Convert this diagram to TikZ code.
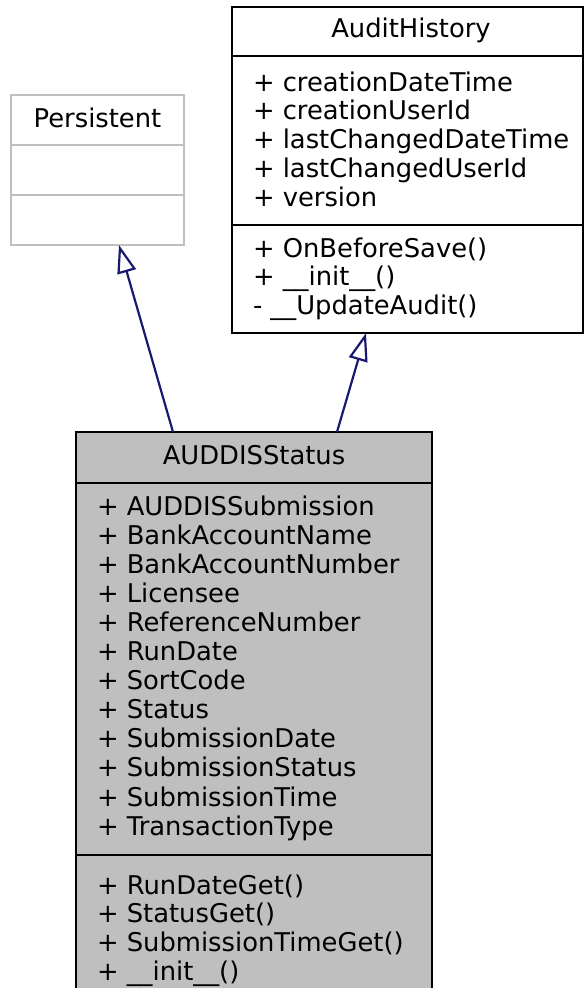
\documentclass[tikz,border=0pt]{standalone}
\usepackage{fontspec}
\setmainfont{DejaVu Sans}
\usetikzlibrary{arrows.meta}
\definecolor{boxgray}{HTML}{BFBFBF}
\definecolor{edgeblue}{HTML}{191970}

\begin{document}
\begin{tikzpicture}[
            x = 1pt, y = -1pt,
            every node/.style={font=\fontsize{25.8}{29}\selectfont, inner sep=0pt, outer sep=0pt},
            classbox/.style={draw, line width = 2.2pt, anchor=north west},
            line/.style={line width = 2.2pt},
            inherit/.style={line width = 2.2pt, draw=edgeblue, -{Triangle[open, length=28pt, width=19pt]}},
            ]
        \clip (0,0) rectangle (585,988);
        % class boxes
        \node[classbox, draw=boxgray, minimum width=173pt, minimum height=150pt] (persist) at (11,95) {};
        \node[classbox, minimum width=351pt, minimum height=326pt] (audit) at (232,7) {};
        \node[classbox, fill=boxgray, minimum width=356pt, minimum height=580pt] (status) at (76,432) {};
        % compartments
        \draw[line, boxgray] (persist.west |- 0,145) -- (persist.east |- 0,145) (persist.west |- 0,195) -- (persist.east |- 0,195);
        \draw[line] (audit.west |- 0,56) -- (audit.east |- 0,56) (audit.west |- 0,225) -- (audit.east |- 0,225);
        \draw[line] (status.west |- 0,483) -- (status.east |- 0,483) (status.west |- 0,855) -- (status.east |- 0,855);
        % names
        \node[anchor=base] (persistname) at (97.5,127) {Persistent};
        \node[anchor=base] (auditname) at (411,37) {AuditHistory};
        \node[anchor=base] (statusname) at (254,464) {AUDDISStatus};
        % members
        \foreach \t [count=\i from 0] in {+ creationDateTime, + creationUserId, + lastChangedDateTime, + lastChangedUserId, + version}
            \node[anchor=base west] (auditattr\i) at (253,91+28.9*\i) {\t};
        \foreach \t [count=\i from 0] in {+ OnBeforeSave(), + \_\_init\_\_(), - \_\_UpdateAudit()}
            \node[anchor=base west] (auditop\i) at (253,257+28.7*\i) {\t};
        \foreach \t [count=\i from 0] in {+ AUDDISSubmission, + BankAccountName, + BankAccountNumber, + Licensee, + ReferenceNumber, + RunDate, + SortCode, + Status, + SubmissionDate, + SubmissionStatus, + SubmissionTime, + TransactionType}
            \node[anchor=base west] (statusattr\i) at (97,515+29.1*\i) {\t};
        \foreach \t [count=\i from 0] in {+ RunDateGet(), + StatusGet(), + SubmissionTimeGet(), + \_\_init\_\_()}
            \node[anchor=base west] (statusop\i) at (97,894+28.8*\i) {\t};
        % generalisation
        \draw[inherit] ([xshift=97pt]status.north west) -- ([xshift=108pt]persist.south west);
        \draw[inherit] ([xshift=261pt]status.north west) -- ([xshift=134pt]audit.south west);
    \end{tikzpicture}
\end{document}
